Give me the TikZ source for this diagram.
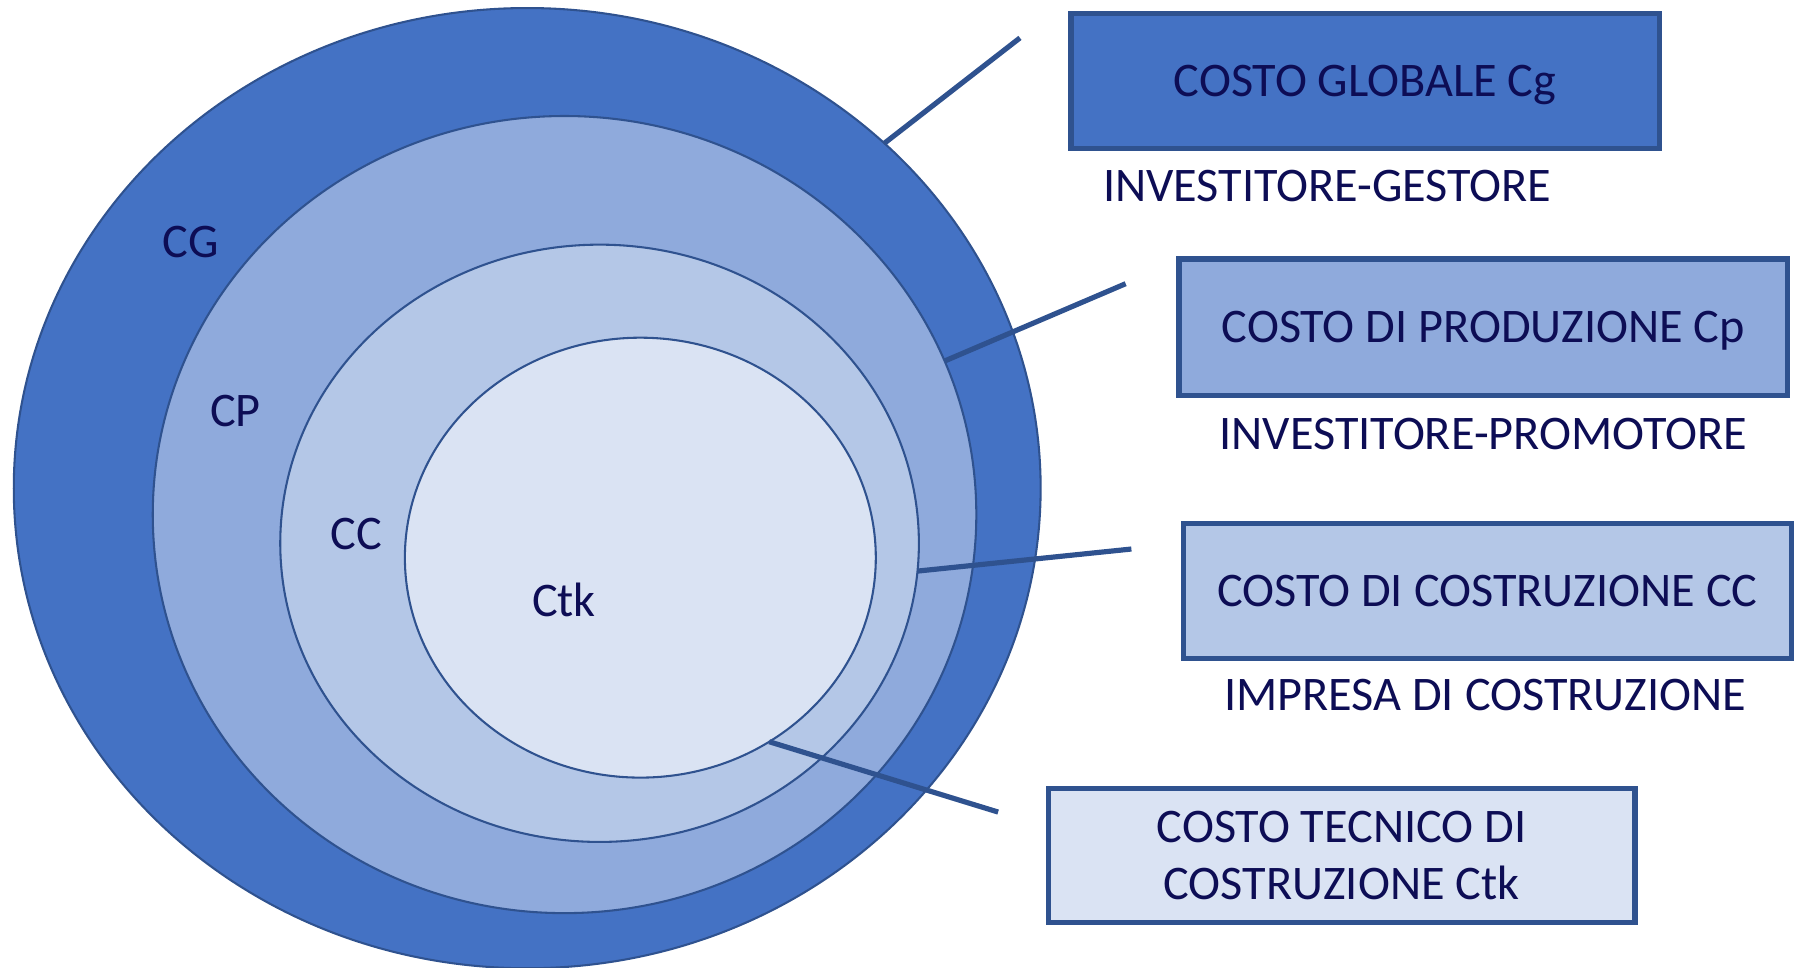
\documentclass[tikz,border=0pt]{standalone}
\usepackage{fontspec}
\setmainfont{Carlito}
\usetikzlibrary{shapes.geometric}
\definecolor{ringG}{HTML}{4472C4}
\definecolor{ringP}{HTML}{8FAADC}
\definecolor{ringC}{HTML}{B4C7E7}
\definecolor{ringT}{HTML}{DAE3F3}
\definecolor{edgeblue}{HTML}{2F528F}
\definecolor{navytext}{HTML}{0D0D55}
\tikzset{
  ring/.style={ellipse, draw=edgeblue, line width=1.8pt, inner sep=0pt, outer sep=0pt},
  costbox/.style={draw=edgeblue, line width=4.5pt, inner sep=0pt},
  oneline/.style={text height=27pt, text depth=0pt, inner sep=0pt},
  link/.style={draw=edgeblue, line width=4.5pt}
}
\begin{document}
\begin{tikzpicture}[x=1pt, y=-1pt, font=\fontsize{42}{50}\selectfont, text=navytext]
    \useasboundingbox (0,0) rectangle (1568,842);

    \node[ring, fill=ringG, minimum width=894pt, minimum height=836pt] (cg) at (459,425) {};
    \node[ring, fill=ringP, minimum width=717pt, minimum height=694pt] (cp) at (491.5,448) {};
    \node[ring, fill=ringC, minimum width=556pt, minimum height=520pt] (cc) at (522,473) {};
    \node[ring, fill=ringT, minimum width=410pt, minimum height=383pt] (ctk) at (557.5,485.5) {};

    \node[oneline] (cglbl) at (166,211) {CG};
    \node[oneline] (cplbl) at (205,358) {CP};
    \node[oneline] (cclbl) at (310,465) {CC};
    \node[oneline] (ctklbl) at (491,523) {Ctk};

    \coordinate (gend) at (888,33);
    \coordinate (pend) at (980,247);
    \coordinate (cend) at (985,478);
    \coordinate (tend) at (869,707);
    \draw[link] (cg.44) -- (gend);
    \draw[link] (cp.22.5) -- (pend);
    \draw[link] (cc.-5) -- (cend);
    \draw[link] (ctk.-55.7) -- (tend);

    \node[costbox, oneline, fill=ringG, minimum width=512pt, minimum height=118pt] (gbox) at (1188.5,70.5) {COSTO GLOBALE Cg};
    \node[costbox, oneline, fill=ringP, minimum width=530pt, minimum height=119pt] (pbox) at (1291.5,285) {COSTO DI PRODUZIONE Cp};
    \node[costbox, oneline, fill=ringC, minimum width=529pt, minimum height=118pt] (cbox) at (1295,514.5) {COSTO DI COSTRUZIONE CC};
    \node[costbox, fill=ringT, align=center, minimum width=511pt, minimum height=117pt] (tbox) at (1168,745) {COSTO TECNICO DI\\COSTRUZIONE Ctk};

    \node[oneline] (gsub) at (1155.5,162) {INVESTITORE-GESTORE};
    \node[oneline] (psub) at (1291.5,378) {INVESTITORE-PROMOTORE};
    \node[oneline] (csub) at (1293,605) {IMPRESA DI COSTRUZIONE};
\end{tikzpicture}
\end{document}
